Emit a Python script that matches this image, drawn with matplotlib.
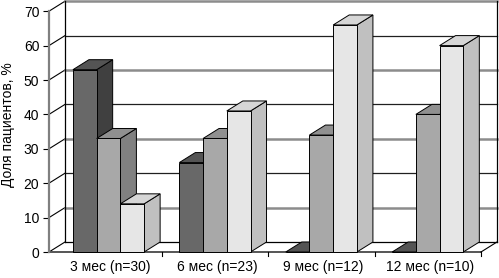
import matplotlib
matplotlib.use("Agg")
import matplotlib.pyplot as plt
from matplotlib.patches import Polygon

plt.rcParams['font.family'] = ['Liberation Sans', 'DejaVu Sans']

categories = ["3 мес (n=30)", "6 мес (n=23)", "9 мес (n=12)", "12 мес (n=10)"]
series_a = [53, 26, 0, 0]
series_b = [33, 33, 34, 40]
series_c = [14, 41, 66, 60]
y_ticks = [0, 10, 20, 30, 40, 50, 60, 70]
y_label = "Доля пациентов, %"

series = [series_a, series_b, series_c]
front_cols = ['#686868', '#a8a8a8', '#e6e6e6']
side_cols = ['#404040', '#808080', '#c0c0c0']
top_cols = ['#545454', '#909090', '#d6d6d6']

W, H = 499, 278
fig = plt.figure(figsize=(W / 100, H / 100), dpi=100)
px_per_unit_x = 106.4
px_per_unit_y = 3.44
left_px, bottom_px = 49, 26
x0 = -0.06
ax = fig.add_axes([left_px / W, bottom_px / H, (W - left_px) / W, (H - bottom_px) / H])
ax.set_xlim(x0, x0 + (W - left_px) / px_per_unit_x)
ax.set_ylim(0, (H - bottom_px) / px_per_unit_y)
ax.patch.set_alpha(0)
fig.patch.set_facecolor('white')

dx = 16 / px_per_unit_x
dy = 10 / px_per_unit_y
xr = 4 + dx
ymax = 70

# walls: side-wall diagonals and back-wall gridlines
for v in y_ticks:
    ax.plot([x0, x0 + dx], [v, v + dy], color='black', lw=0.8, clip_on=False, zorder=1)
    if v == 0:
        c, lw = 'black', 0.9
    elif (v // 10) % 2 == 1:
        c, lw = '#8c8c8c', 1.8
    else:
        c, lw = '#202020', 0.9
    ax.plot([x0 + dx, xr], [v + dy, v + dy], color=c, lw=lw, clip_on=False, zorder=1)
ax.plot([x0 + dx, x0 + dx], [dy, ymax + dy], color='black', lw=0.9, clip_on=False, zorder=1)
ax.plot([xr, xr], [dy, ymax + dy], color='black', lw=0.9, clip_on=False, zorder=1)
# floor
ax.plot([x0, 4], [0, 0], color='#555555', lw=1.4, clip_on=False, zorder=1)
ax.plot([4, xr], [0, dy], color='black', lw=0.8, clip_on=False, zorder=1)
# category separator ticks
for k in range(1, 5):
    ax.plot([k, k], [0, -4 / px_per_unit_y], color='black', lw=0.8, clip_on=False, zorder=1)

# bars
bw = 0.223
off = 0.165
z = 3
for i in range(len(categories)):
    for s, vals in enumerate(series):
        v = vals[i]
        xl = i + off + s * bw
        side = Polygon([(xl + bw, 0), (xl + bw, v), (xl + bw + dx, v + dy), (xl + bw + dx, dy)],
                       closed=True, facecolor=side_cols[s], edgecolor='black', lw=0.7, zorder=z, clip_on=False)
        ax.add_patch(side)
        top = Polygon([(xl, v), (xl + bw, v), (xl + bw + dx, v + dy), (xl + dx, v + dy)],
                      closed=True, facecolor=top_cols[s], edgecolor='black', lw=0.7, zorder=z + 0.1, clip_on=False)
        ax.add_patch(top)
        ax.bar(xl, v, width=bw, align='edge', color=front_cols[s], edgecolor='black', lw=0.7,
               zorder=z + 0.2, clip_on=False)
        z += 1

for sp in ['top', 'right', 'bottom']:
    ax.spines[sp].set_visible(False)
ax.spines['left'].set_bounds(0, ymax)
ax.spines['left'].set_color('#808080')
ax.spines['left'].set_linewidth(1.6)
ax.spines['left'].set_zorder(2)

ax.set_yticks(y_ticks)
ax.set_yticklabels([str(t) for t in y_ticks])
ax.tick_params(axis='y', direction='out', length=4, width=0.8, pad=3, labelsize=10, colors='black')
ax.set_xticks([i + 0.52 for i in range(len(categories))])
ax.set_xticklabels(categories)
ax.tick_params(axis='x', length=0, pad=6, labelsize=10)

fig.text(8 / W, 1 - 125 / H, y_label, rotation=90, ha='center', va='center', fontsize=10)

fig.savefig('out.png', dpi=100)
